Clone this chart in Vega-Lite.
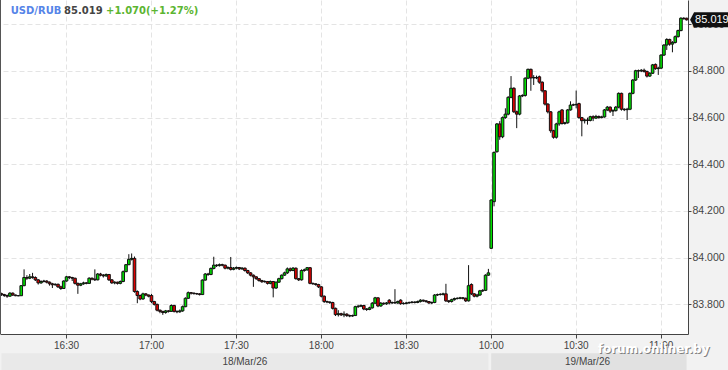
{
  "width": 688,
  "height": 334,
  "autosize": "none",
  "padding": {"left": 0, "top": 0, "right": 40, "bottom": 36},
  "background": "#f2f2f2",
  "config": {
    "view": {"stroke": null, "fill": "white"},
    "axis": {"labelFont": "Liberation Sans", "labelColor": "#444", "domainColor": "#444", "tickColor": "#444", "gridColor": "#e4e4e4", "gridDash": [5, 3], "title": null}
  },
  "datasets": {
    "candles": [
      {"t":"16:07","o":83.846,"h":83.850,"l":83.836,"c":83.842},
      {"t":"16:08","o":83.842,"h":83.845,"l":83.832,"c":83.838},
      {"t":"16:09","o":83.838,"h":83.842,"l":83.828,"c":83.835},
      {"t":"16:10","o":83.835,"h":83.852,"l":83.833,"c":83.848},
      {"t":"16:11","o":83.848,"h":83.851,"l":83.836,"c":83.840},
      {"t":"16:12","o":83.840,"h":83.842,"l":83.835,"c":83.837},
      {"t":"16:13","o":83.837,"h":83.839,"l":83.835,"c":83.837},
      {"t":"16:14","o":83.837,"h":83.882,"l":83.836,"c":83.880},
      {"t":"16:15","o":83.880,"h":83.950,"l":83.878,"c":83.915},
      {"t":"16:16","o":83.915,"h":83.925,"l":83.905,"c":83.912},
      {"t":"16:17","o":83.912,"h":83.930,"l":83.908,"c":83.918},
      {"t":"16:18","o":83.918,"h":83.935,"l":83.910,"c":83.915},
      {"t":"16:19","o":83.915,"h":83.920,"l":83.900,"c":83.905},
      {"t":"16:20","o":83.905,"h":83.908,"l":83.885,"c":83.892},
      {"t":"16:21","o":83.892,"h":83.903,"l":83.888,"c":83.898},
      {"t":"16:22","o":83.898,"h":83.905,"l":83.894,"c":83.900},
      {"t":"16:23","o":83.900,"h":83.903,"l":83.890,"c":83.895},
      {"t":"16:24","o":83.895,"h":83.898,"l":83.880,"c":83.888},
      {"t":"16:25","o":83.888,"h":83.892,"l":83.870,"c":83.884},
      {"t":"16:26","o":83.884,"h":83.890,"l":83.880,"c":83.886},
      {"t":"16:27","o":83.886,"h":83.889,"l":83.870,"c":83.875},
      {"t":"16:28","o":83.875,"h":83.880,"l":83.862,"c":83.868},
      {"t":"16:29","o":83.868,"h":83.903,"l":83.866,"c":83.900},
      {"t":"16:30","o":83.900,"h":83.922,"l":83.897,"c":83.918},
      {"t":"16:31","o":83.918,"h":83.921,"l":83.908,"c":83.915},
      {"t":"16:32","o":83.915,"h":83.918,"l":83.900,"c":83.912},
      {"t":"16:33","o":83.912,"h":83.914,"l":83.885,"c":83.890},
      {"t":"16:34","o":83.890,"h":83.893,"l":83.845,"c":83.882},
      {"t":"16:35","o":83.882,"h":83.892,"l":83.878,"c":83.888},
      {"t":"16:36","o":83.888,"h":83.897,"l":83.884,"c":83.892},
      {"t":"16:37","o":83.892,"h":83.895,"l":83.886,"c":83.890},
      {"t":"16:38","o":83.890,"h":83.916,"l":83.888,"c":83.912},
      {"t":"16:39","o":83.912,"h":83.915,"l":83.903,"c":83.908},
      {"t":"16:40","o":83.908,"h":83.950,"l":83.900,"c":83.905},
      {"t":"16:41","o":83.905,"h":83.934,"l":83.903,"c":83.930},
      {"t":"16:42","o":83.930,"h":83.935,"l":83.920,"c":83.925},
      {"t":"16:43","o":83.925,"h":83.930,"l":83.915,"c":83.922},
      {"t":"16:44","o":83.922,"h":83.932,"l":83.918,"c":83.928},
      {"t":"16:45","o":83.928,"h":83.930,"l":83.900,"c":83.905},
      {"t":"16:46","o":83.905,"h":83.908,"l":83.888,"c":83.892},
      {"t":"16:47","o":83.892,"h":83.899,"l":83.886,"c":83.895},
      {"t":"16:48","o":83.895,"h":83.897,"l":83.885,"c":83.890},
      {"t":"16:49","o":83.890,"h":83.902,"l":83.886,"c":83.898},
      {"t":"16:50","o":83.898,"h":83.945,"l":83.895,"c":83.940},
      {"t":"16:51","o":83.940,"h":83.973,"l":83.938,"c":83.970},
      {"t":"16:52","o":83.970,"h":84.015,"l":83.968,"c":83.993},
      {"t":"16:53","o":83.993,"h":84.018,"l":83.988,"c":83.997},
      {"t":"16:54","o":83.997,"h":84.005,"l":83.850,"c":83.855},
      {"t":"16:55","o":83.855,"h":83.860,"l":83.805,"c":83.838},
      {"t":"16:56","o":83.838,"h":83.842,"l":83.818,"c":83.823},
      {"t":"16:57","o":83.823,"h":83.850,"l":83.820,"c":83.845},
      {"t":"16:58","o":83.845,"h":83.848,"l":83.835,"c":83.840},
      {"t":"16:59","o":83.840,"h":83.842,"l":83.830,"c":83.835},
      {"t":"17:00","o":83.838,"h":83.845,"l":83.805,"c":83.812},
      {"t":"17:01","o":83.812,"h":83.815,"l":83.795,"c":83.800},
      {"t":"17:02","o":83.800,"h":83.803,"l":83.770,"c":83.775},
      {"t":"17:03","o":83.775,"h":83.778,"l":83.762,"c":83.770},
      {"t":"17:04","o":83.770,"h":83.772,"l":83.755,"c":83.765},
      {"t":"17:05","o":83.765,"h":83.776,"l":83.760,"c":83.772},
      {"t":"17:06","o":83.772,"h":83.775,"l":83.765,"c":83.770},
      {"t":"17:07","o":83.770,"h":83.800,"l":83.768,"c":83.795},
      {"t":"17:08","o":83.795,"h":83.798,"l":83.765,"c":83.770},
      {"t":"17:09","o":83.770,"h":83.774,"l":83.762,"c":83.768},
      {"t":"17:10","o":83.768,"h":83.778,"l":83.764,"c":83.772},
      {"t":"17:11","o":83.772,"h":83.795,"l":83.768,"c":83.790},
      {"t":"17:12","o":83.790,"h":83.830,"l":83.788,"c":83.826},
      {"t":"17:13","o":83.826,"h":83.855,"l":83.824,"c":83.850},
      {"t":"17:14","o":83.850,"h":83.853,"l":83.842,"c":83.848},
      {"t":"17:15","o":83.848,"h":83.851,"l":83.842,"c":83.846},
      {"t":"17:16","o":83.846,"h":83.849,"l":83.841,"c":83.845},
      {"t":"17:17","o":83.845,"h":83.848,"l":83.838,"c":83.842},
      {"t":"17:18","o":83.842,"h":83.907,"l":83.840,"c":83.904},
      {"t":"17:19","o":83.904,"h":83.934,"l":83.902,"c":83.930},
      {"t":"17:20","o":83.930,"h":83.935,"l":83.922,"c":83.928},
      {"t":"17:21","o":83.928,"h":83.958,"l":83.925,"c":83.954},
      {"t":"17:22","o":83.954,"h":84.004,"l":83.950,"c":83.968},
      {"t":"17:23","o":83.968,"h":83.972,"l":83.960,"c":83.966},
      {"t":"17:24","o":83.966,"h":83.975,"l":83.962,"c":83.970},
      {"t":"17:25","o":83.970,"h":83.974,"l":83.963,"c":83.968},
      {"t":"17:26","o":83.968,"h":83.970,"l":83.950,"c":83.955},
      {"t":"17:27","o":83.955,"h":83.963,"l":83.950,"c":83.958},
      {"t":"17:28","o":83.958,"h":84.003,"l":83.945,"c":83.950},
      {"t":"17:29","o":83.950,"h":83.960,"l":83.946,"c":83.955},
      {"t":"17:30","o":83.955,"h":83.962,"l":83.950,"c":83.958},
      {"t":"17:31","o":83.958,"h":83.960,"l":83.947,"c":83.952},
      {"t":"17:32","o":83.952,"h":83.960,"l":83.948,"c":83.955},
      {"t":"17:33","o":83.955,"h":83.958,"l":83.940,"c":83.945},
      {"t":"17:34","o":83.945,"h":83.948,"l":83.930,"c":83.935},
      {"t":"17:35","o":83.935,"h":83.938,"l":83.920,"c":83.925},
      {"t":"17:36","o":83.925,"h":83.928,"l":83.875,"c":83.918},
      {"t":"17:37","o":83.918,"h":83.920,"l":83.905,"c":83.910},
      {"t":"17:38","o":83.910,"h":83.912,"l":83.897,"c":83.902},
      {"t":"17:39","o":83.902,"h":83.905,"l":83.892,"c":83.897},
      {"t":"17:40","o":83.897,"h":83.903,"l":83.893,"c":83.898},
      {"t":"17:41","o":83.898,"h":83.900,"l":83.885,"c":83.890},
      {"t":"17:42","o":83.890,"h":83.902,"l":83.886,"c":83.898},
      {"t":"17:43","o":83.898,"h":83.900,"l":83.830,"c":83.870},
      {"t":"17:44","o":83.870,"h":83.898,"l":83.866,"c":83.895},
      {"t":"17:45","o":83.895,"h":83.914,"l":83.892,"c":83.910},
      {"t":"17:46","o":83.910,"h":83.928,"l":83.907,"c":83.925},
      {"t":"17:47","o":83.925,"h":83.940,"l":83.922,"c":83.935},
      {"t":"17:48","o":83.935,"h":83.958,"l":83.930,"c":83.952},
      {"t":"17:49","o":83.952,"h":83.958,"l":83.940,"c":83.945},
      {"t":"17:50","o":83.945,"h":83.960,"l":83.942,"c":83.955},
      {"t":"17:51","o":83.955,"h":83.958,"l":83.906,"c":83.910},
      {"t":"17:52","o":83.910,"h":83.913,"l":83.900,"c":83.905},
      {"t":"17:53","o":83.905,"h":83.950,"l":83.902,"c":83.945},
      {"t":"17:54","o":83.945,"h":83.953,"l":83.940,"c":83.948},
      {"t":"17:55","o":83.948,"h":83.960,"l":83.944,"c":83.957},
      {"t":"17:56","o":83.957,"h":83.960,"l":83.886,"c":83.890},
      {"t":"17:57","o":83.890,"h":83.893,"l":83.884,"c":83.888},
      {"t":"17:58","o":83.888,"h":83.890,"l":83.880,"c":83.885},
      {"t":"17:59","o":83.885,"h":83.888,"l":83.870,"c":83.875},
      {"t":"18:00","o":83.875,"h":83.878,"l":83.830,"c":83.835},
      {"t":"18:01","o":83.835,"h":83.838,"l":83.806,"c":83.812},
      {"t":"18:02","o":83.812,"h":83.816,"l":83.805,"c":83.810},
      {"t":"18:03","o":83.810,"h":83.813,"l":83.802,"c":83.808},
      {"t":"18:04","o":83.808,"h":83.811,"l":83.778,"c":83.783},
      {"t":"18:05","o":83.783,"h":83.786,"l":83.750,"c":83.756},
      {"t":"18:06","o":83.756,"h":83.775,"l":83.748,"c":83.760},
      {"t":"18:07","o":83.760,"h":83.764,"l":83.750,"c":83.755},
      {"t":"18:08","o":83.755,"h":83.770,"l":83.745,"c":83.758},
      {"t":"18:09","o":83.758,"h":83.762,"l":83.746,"c":83.752},
      {"t":"18:10","o":83.752,"h":83.756,"l":83.745,"c":83.750},
      {"t":"18:11","o":83.750,"h":83.756,"l":83.747,"c":83.752},
      {"t":"18:12","o":83.752,"h":83.794,"l":83.750,"c":83.790},
      {"t":"18:13","o":83.790,"h":83.798,"l":83.785,"c":83.792},
      {"t":"18:14","o":83.792,"h":83.800,"l":83.788,"c":83.795},
      {"t":"18:15","o":83.795,"h":83.798,"l":83.775,"c":83.780},
      {"t":"18:16","o":83.780,"h":83.784,"l":83.772,"c":83.778},
      {"t":"18:17","o":83.778,"h":83.790,"l":83.775,"c":83.785},
      {"t":"18:18","o":83.785,"h":83.810,"l":83.782,"c":83.805},
      {"t":"18:19","o":83.805,"h":83.832,"l":83.802,"c":83.828},
      {"t":"18:20","o":83.828,"h":83.830,"l":83.788,"c":83.793},
      {"t":"18:21","o":83.793,"h":83.810,"l":83.790,"c":83.805},
      {"t":"18:22","o":83.805,"h":83.808,"l":83.798,"c":83.802},
      {"t":"18:23","o":83.802,"h":83.810,"l":83.798,"c":83.806},
      {"t":"18:24","o":83.818,"h":83.822,"l":83.800,"c":83.806},
      {"t":"18:25","o":83.806,"h":83.812,"l":83.802,"c":83.808},
      {"t":"18:26","o":83.808,"h":83.865,"l":83.802,"c":83.806},
      {"t":"18:27","o":83.806,"h":83.816,"l":83.802,"c":83.812},
      {"t":"18:28","o":83.818,"h":83.822,"l":83.798,"c":83.803},
      {"t":"18:29","o":83.803,"h":83.809,"l":83.799,"c":83.804},
      {"t":"18:30","o":83.804,"h":83.811,"l":83.800,"c":83.806},
      {"t":"18:31","o":83.806,"h":83.812,"l":83.803,"c":83.808},
      {"t":"18:32","o":83.808,"h":83.814,"l":83.804,"c":83.810},
      {"t":"18:33","o":83.810,"h":83.813,"l":83.804,"c":83.808},
      {"t":"18:34","o":83.808,"h":83.816,"l":83.805,"c":83.812},
      {"t":"18:35","o":83.812,"h":83.822,"l":83.808,"c":83.818},
      {"t":"18:36","o":83.818,"h":83.820,"l":83.810,"c":83.815},
      {"t":"18:37","o":83.815,"h":83.818,"l":83.807,"c":83.812},
      {"t":"18:38","o":83.812,"h":83.814,"l":83.802,"c":83.806},
      {"t":"18:39","o":83.806,"h":83.812,"l":83.801,"c":83.808},
      {"t":"18:40","o":83.808,"h":83.844,"l":83.805,"c":83.840},
      {"t":"18:41","o":83.840,"h":83.846,"l":83.836,"c":83.842},
      {"t":"18:42","o":83.842,"h":83.848,"l":83.838,"c":83.843},
      {"t":"18:43","o":83.843,"h":83.850,"l":83.838,"c":83.845},
      {"t":"18:44","o":83.845,"h":83.888,"l":83.810,"c":83.815},
      {"t":"18:45","o":83.815,"h":83.818,"l":83.806,"c":83.812},
      {"t":"18:46","o":83.812,"h":83.824,"l":83.808,"c":83.820},
      {"t":"18:47","o":83.820,"h":83.829,"l":83.816,"c":83.825},
      {"t":"18:48","o":83.825,"h":83.830,"l":83.821,"c":83.826},
      {"t":"18:49","o":83.826,"h":83.832,"l":83.822,"c":83.828},
      {"t":"18:50","o":83.828,"h":83.831,"l":83.821,"c":83.826},
      {"t":"18:51","o":83.826,"h":83.829,"l":83.810,"c":83.815},
      {"t":"18:52","o":83.815,"h":83.968,"l":83.812,"c":83.880},
      {"t":"18:53","o":83.885,"h":83.890,"l":83.840,"c":83.845},
      {"t":"18:54","o":83.845,"h":83.848,"l":83.830,"c":83.835},
      {"t":"18:55","o":83.835,"h":83.845,"l":83.830,"c":83.840},
      {"t":"18:56","o":83.840,"h":83.862,"l":83.836,"c":83.858},
      {"t":"18:57","o":83.858,"h":83.865,"l":83.853,"c":83.860},
      {"t":"18:58","o":83.860,"h":83.929,"l":83.857,"c":83.925},
      {"t":"18:59","o":83.925,"h":83.952,"l":83.922,"c":83.935},
      {"t":"10:00","o":84.040,"h":84.250,"l":84.038,"c":84.247},
      {"t":"10:01","o":84.240,"h":84.455,"l":84.220,"c":84.451},
      {"t":"10:02","o":84.454,"h":84.577,"l":84.450,"c":84.573},
      {"t":"10:03","o":84.573,"h":84.585,"l":84.505,"c":84.518},
      {"t":"10:04","o":84.518,"h":84.605,"l":84.512,"c":84.600},
      {"t":"10:05","o":84.600,"h":84.640,"l":84.595,"c":84.615},
      {"t":"10:06","o":84.615,"h":84.692,"l":84.610,"c":84.687},
      {"t":"10:07","o":84.687,"h":84.778,"l":84.683,"c":84.726},
      {"t":"10:08","o":84.726,"h":84.730,"l":84.620,"c":84.625},
      {"t":"10:09","o":84.625,"h":84.630,"l":84.555,"c":84.615},
      {"t":"10:10","o":84.615,"h":84.697,"l":84.610,"c":84.693},
      {"t":"10:11","o":84.693,"h":84.700,"l":84.688,"c":84.695},
      {"t":"10:12","o":84.695,"h":84.773,"l":84.690,"c":84.769},
      {"t":"10:13","o":84.769,"h":84.810,"l":84.765,"c":84.807},
      {"t":"10:14","o":84.807,"h":84.810,"l":84.715,"c":84.770},
      {"t":"10:15","o":84.770,"h":84.782,"l":84.740,"c":84.772},
      {"t":"10:16","o":84.772,"h":84.780,"l":84.765,"c":84.770},
      {"t":"10:17","o":84.775,"h":84.780,"l":84.745,"c":84.752},
      {"t":"10:18","o":84.752,"h":84.755,"l":84.708,"c":84.715},
      {"t":"10:19","o":84.715,"h":84.718,"l":84.652,"c":84.658},
      {"t":"10:20","o":84.658,"h":84.662,"l":84.618,"c":84.625},
      {"t":"10:21","o":84.625,"h":84.628,"l":84.535,"c":84.544},
      {"t":"10:22","o":84.544,"h":84.548,"l":84.510,"c":84.516},
      {"t":"10:23","o":84.516,"h":84.578,"l":84.510,"c":84.573},
      {"t":"10:24","o":84.573,"h":84.630,"l":84.565,"c":84.625},
      {"t":"10:25","o":84.633,"h":84.636,"l":84.570,"c":84.575},
      {"t":"10:26","o":84.575,"h":84.582,"l":84.570,"c":84.578},
      {"t":"10:27","o":84.578,"h":84.637,"l":84.574,"c":84.633},
      {"t":"10:28","o":84.633,"h":84.670,"l":84.630,"c":84.654},
      {"t":"10:29","o":84.654,"h":84.660,"l":84.650,"c":84.655},
      {"t":"10:30","o":84.655,"h":84.716,"l":84.640,"c":84.657},
      {"t":"10:31","o":84.660,"h":84.664,"l":84.595,"c":84.600},
      {"t":"10:32","o":84.600,"h":84.603,"l":84.520,"c":84.587},
      {"t":"10:33","o":84.587,"h":84.596,"l":84.575,"c":84.590},
      {"t":"10:34","o":84.590,"h":84.600,"l":84.570,"c":84.588},
      {"t":"10:35","o":84.588,"h":84.608,"l":84.584,"c":84.604},
      {"t":"10:36","o":84.604,"h":84.610,"l":84.585,"c":84.598},
      {"t":"10:37","o":84.598,"h":84.612,"l":84.594,"c":84.605},
      {"t":"10:38","o":84.605,"h":84.609,"l":84.596,"c":84.600},
      {"t":"10:39","o":84.600,"h":84.608,"l":84.597,"c":84.603},
      {"t":"10:40","o":84.603,"h":84.637,"l":84.600,"c":84.633},
      {"t":"10:41","o":84.633,"h":84.650,"l":84.628,"c":84.645},
      {"t":"10:42","o":84.645,"h":84.648,"l":84.620,"c":84.628},
      {"t":"10:43","o":84.628,"h":84.636,"l":84.607,"c":84.630},
      {"t":"10:44","o":84.630,"h":84.650,"l":84.626,"c":84.645},
      {"t":"10:45","o":84.645,"h":84.708,"l":84.640,"c":84.704},
      {"t":"10:46","o":84.704,"h":84.707,"l":84.630,"c":84.636},
      {"t":"10:47","o":84.636,"h":84.640,"l":84.628,"c":84.634},
      {"t":"10:48","o":84.634,"h":84.642,"l":84.590,"c":84.636},
      {"t":"10:49","o":84.636,"h":84.708,"l":84.632,"c":84.704},
      {"t":"10:50","o":84.704,"h":84.765,"l":84.700,"c":84.761},
      {"t":"10:51","o":84.761,"h":84.805,"l":84.757,"c":84.801},
      {"t":"10:52","o":84.801,"h":84.806,"l":84.770,"c":84.800},
      {"t":"10:53","o":84.800,"h":84.808,"l":84.795,"c":84.803},
      {"t":"10:54","o":84.803,"h":84.810,"l":84.793,"c":84.798},
      {"t":"10:55","o":84.798,"h":84.801,"l":84.772,"c":84.778},
      {"t":"10:56","o":84.778,"h":84.795,"l":84.775,"c":84.790},
      {"t":"10:57","o":84.790,"h":84.830,"l":84.787,"c":84.826},
      {"t":"10:58","o":84.828,"h":84.832,"l":84.805,"c":84.810},
      {"t":"10:59","o":84.810,"h":84.818,"l":84.783,"c":84.812},
      {"t":"11:00","o":84.812,"h":84.872,"l":84.808,"c":84.868},
      {"t":"11:01","o":84.868,"h":84.915,"l":84.864,"c":84.911},
      {"t":"11:02","o":84.911,"h":84.940,"l":84.890,"c":84.935},
      {"t":"11:03","o":84.935,"h":84.938,"l":84.908,"c":84.915},
      {"t":"11:04","o":84.915,"h":84.928,"l":84.880,"c":84.922},
      {"t":"11:05","o":84.922,"h":84.952,"l":84.918,"c":84.947},
      {"t":"11:06","o":84.947,"h":84.977,"l":84.943,"c":84.973},
      {"t":"11:07","o":84.973,"h":85.030,"l":84.970,"c":85.026},
      {"t":"11:08","o":85.026,"h":85.030,"l":85.020,"c":85.024},
      {"t":"11:09","o":85.026,"h":85.028,"l":85.016,"c":85.019}
    ]
  },
  "data": {"name": "candles"},
  "encoding": {
    "x": {
      "field": "t", "type": "ordinal", "sort": null,
      "scale": {"type": "band", "paddingInner": 0, "paddingOuter": 0, "domain": ["16:07","16:08","16:09","16:10","16:11","16:12","16:13","16:14","16:15","16:16","16:17","16:18","16:19","16:20","16:21","16:22","16:23","16:24","16:25","16:26","16:27","16:28","16:29","16:30","16:31","16:32","16:33","16:34","16:35","16:36","16:37","16:38","16:39","16:40","16:41","16:42","16:43","16:44","16:45","16:46","16:47","16:48","16:49","16:50","16:51","16:52","16:53","16:54","16:55","16:56","16:57","16:58","16:59","17:00","17:01","17:02","17:03","17:04","17:05","17:06","17:07","17:08","17:09","17:10","17:11","17:12","17:13","17:14","17:15","17:16","17:17","17:18","17:19","17:20","17:21","17:22","17:23","17:24","17:25","17:26","17:27","17:28","17:29","17:30","17:31","17:32","17:33","17:34","17:35","17:36","17:37","17:38","17:39","17:40","17:41","17:42","17:43","17:44","17:45","17:46","17:47","17:48","17:49","17:50","17:51","17:52","17:53","17:54","17:55","17:56","17:57","17:58","17:59","18:00","18:01","18:02","18:03","18:04","18:05","18:06","18:07","18:08","18:09","18:10","18:11","18:12","18:13","18:14","18:15","18:16","18:17","18:18","18:19","18:20","18:21","18:22","18:23","18:24","18:25","18:26","18:27","18:28","18:29","18:30","18:31","18:32","18:33","18:34","18:35","18:36","18:37","18:38","18:39","18:40","18:41","18:42","18:43","18:44","18:45","18:46","18:47","18:48","18:49","18:50","18:51","18:52","18:53","18:54","18:55","18:56","18:57","18:58","18:59","10:00","10:01","10:02","10:03","10:04","10:05","10:06","10:07","10:08","10:09","10:10","10:11","10:12","10:13","10:14","10:15","10:16","10:17","10:18","10:19","10:20","10:21","10:22","10:23","10:24","10:25","10:26","10:27","10:28","10:29","10:30","10:31","10:32","10:33","10:34","10:35","10:36","10:37","10:38","10:39","10:40","10:41","10:42","10:43","10:44","10:45","10:46","10:47","10:48","10:49","10:50","10:51","10:52","10:53","10:54","10:55","10:56","10:57","10:58","10:59","11:00","11:01","11:02","11:03","11:04","11:05","11:06","11:07","11:08","11:09"]},
      "axis": {"values": ["16:30","17:00","17:30","18:00","18:30","10:00","10:30","11:00"], "labelAngle": 0, "labelFontSize": 10, "tickSize": 4, "labelPadding": 2, "grid": true, "title": null}
    }
  },
  "layer": [
    {
      "mark": {"type": "rule", "color": "#111", "strokeWidth": 1},
      "encoding": {
        "y": {"field": "l", "type": "quantitative", "title": null,
          "scale": {"domain": [83.673, 85.104], "nice": false, "zero": false},
          "axis": {"orient": "right", "values": [83.8, 84.0, 84.2, 84.4, 84.6, 84.8, 85.0], "format": ".3f", "labelFontSize": 10.5, "tickSize": 3, "labelPadding": 1, "grid": true, "title": null}},
        "y2": {"field": "h"}
      }
    },
    {
      "mark": {"type": "bar", "stroke": "#111", "strokeWidth": 1, "size": 2.6},
      "encoding": {
        "y": {"field": "o", "type": "quantitative", "title": null},
        "y2": {"field": "c"},
        "fill": {"condition": {"test": "datum.c >= datum.o", "value": "#00e000"}, "value": "#e00000"}
      }
    },
    {
      "data": {"values": [{}]},
      "mark": {"type": "rule", "color": "#555", "strokeWidth": 2},
      "encoding": {
        "x": {"datum": "16:07", "type": "ordinal", "bandPosition": 0},
        "y": {"datum": 85.104, "type": "quantitative"},
        "y2": {"datum": 83.673}
      }
    },
    {
      "data": {"values": [{"a": "16:07", "b": "18:59", "col": "#e9e9e9"}, {"a": "10:00", "b": "11:09", "col": "#e1e1e1"}]},
      "mark": {"type": "rect"},
      "encoding": {
        "x": {"field": "a", "type": "ordinal"},
        "x2": {"field": "b"},
        "y": {"datum": 83.591, "type": "quantitative"},
        "y2": {"datum": 83.512},
        "fill": {"field": "col", "type": "nominal", "scale": null}
      }
    },
    {
      "data": {"values": [{"d": "17:33", "lab": "18/Mar/26"}, {"d": "10:34", "lab": "19/Mar/26"}]},
      "mark": {"type": "text", "font": "Liberation Sans", "fontSize": 10, "color": "#444", "baseline": "middle", "align": "center"},
      "encoding": {
        "x": {"field": "d", "type": "ordinal"},
        "y": {"datum": 83.553, "type": "quantitative"},
        "text": {"field": "lab"}
      }
    },
    {
      "data": {"values": [{}]},
      "mark": {"type": "text", "text": "forum.onliner.by", "font": "DejaVu Sans", "fontWeight": "bold", "fontSize": 12, "color": "#555", "opacity": 0.7, "baseline": "middle", "align": "center", "dx": 2, "dy": 1},
      "encoding": {
        "x": {"datum": "10:57", "type": "ordinal"},
        "y": {"datum": 83.608, "type": "quantitative"}
      }
    },
    {
      "data": {"values": [{}]},
      "mark": {"type": "text", "text": "forum.onliner.by", "font": "DejaVu Sans", "fontWeight": "bold", "fontSize": 12, "color": "white", "baseline": "middle", "align": "center", "dx": 1},
      "encoding": {
        "x": {"datum": "10:57", "type": "ordinal"},
        "y": {"datum": 83.608, "type": "quantitative"}
      }
    },
    {
      "data": {"values": [{"txt": "USD/RUB", "col": "#5584e8", "off": 9.3}, {"txt": "85.019", "col": "#444444", "off": 62.6}, {"txt": "+1.070(+1.27%)", "col": "#5cb531", "off": 104.6}]},
      "layer": [
        {"mark": {"type": "text", "font": "DejaVu Sans", "fontWeight": "bold", "fontSize": 10, "baseline": "middle", "align": "left", "dx": 9.3}, "transform": [{"filter": "datum.off < 10"}],
         "encoding": {"x": {"datum": "16:07", "type": "ordinal"}, "y": {"datum": 85.055, "type": "quantitative"}, "text": {"field": "txt"}, "color": {"field": "col", "type": "nominal", "scale": null}}},
        {"mark": {"type": "text", "font": "DejaVu Sans", "fontWeight": "bold", "fontSize": 10, "baseline": "middle", "align": "left", "dx": 62.6}, "transform": [{"filter": "datum.off > 10 && datum.off < 100"}],
         "encoding": {"x": {"datum": "16:07", "type": "ordinal"}, "y": {"datum": 85.055, "type": "quantitative"}, "text": {"field": "txt"}, "color": {"field": "col", "type": "nominal", "scale": null}}},
        {"mark": {"type": "text", "font": "DejaVu Sans", "fontWeight": "bold", "fontSize": 10, "baseline": "middle", "align": "left", "dx": 104.6}, "transform": [{"filter": "datum.off > 100"}],
         "encoding": {"x": {"datum": "16:07", "type": "ordinal"}, "y": {"datum": 85.055, "type": "quantitative"}, "text": {"field": "txt"}, "color": {"field": "col", "type": "nominal", "scale": null}}}
      ]
    },
    {
      "data": {"values": [{}]},
      "mark": {"type": "point", "shape": "M3.5 0 L7.5 -7.5 L42 -7.5 L42 7.5 L7.5 7.5 Z", "filled": true, "size": 4, "color": "#111", "opacity": 1},
      "encoding": {
        "x": {"datum": "11:09", "type": "ordinal"},
        "y": {"datum": 85.019, "type": "quantitative"}
      }
    },
    {
      "data": {"values": [{}]},
      "mark": {"type": "text", "text": "85.019", "font": "Liberation Sans", "fontSize": 11, "color": "white", "baseline": "middle", "align": "left", "dx": 8.5},
      "encoding": {
        "x": {"datum": "11:09", "type": "ordinal"},
        "y": {"datum": 85.019, "type": "quantitative"}
      }
    }
  ]
}
